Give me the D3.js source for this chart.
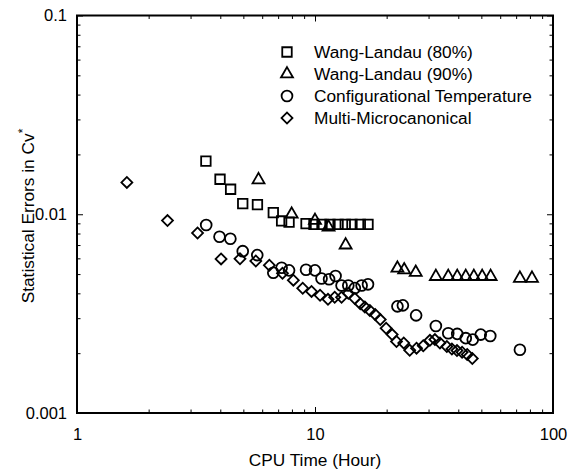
<!DOCTYPE html>
<html>
<head>
<meta charset="utf-8">
<script src="https://cdn.jsdelivr.net/npm/d3@7"></script>
<style>
  body { margin: 0; background: #fff; }
  text { font-family: "Liberation Sans", Arial, Helvetica, sans-serif; }
</style>
</head>
<body>
<svg id="chart" width="569" height="471"></svg>
<script>
// Wang-Landau (80%)
var wl80X = [3.48, 3.99, 4.42, 4.97, 5.73, 6.68, 7.24, 7.78, 9.17, 9.9, 10.7, 11.56, 12.5, 13.4, 14.3, 15.5, 16.7];
var wl80Y = [0.0185, 0.0150, 0.01336, 0.0113, 0.01117, 0.0102, 0.00925, 0.00912, 0.00898, 0.0089, 0.0089, 0.0089, 0.0089, 0.0089, 0.0089, 0.0089, 0.0089];

// Wang-Landau (90%)
var wl90X = [5.79, 7.98, 10.0, 11.4, 13.45, 22.2, 23.7, 26.5, 32.2, 36.3, 39.6, 43.0, 46.5, 50.4, 54.7, 72.6, 81.6];
var wl90Y = [0.0149, 0.0100, 0.0093, 0.0086, 0.0070, 0.00535, 0.00525, 0.0051, 0.00486, 0.00486, 0.00486, 0.00486, 0.00486, 0.00486, 0.00486, 0.00476, 0.00476];

// Configurational Temperature
var ctX = [3.49, 3.97, 4.41, 4.97, 5.72, 6.68, 7.24, 7.78, 9.17, 10.0, 10.65, 11.46, 12.2, 12.93, 13.8, 14.7, 15.7, 16.7, 22.2, 23.4, 26.6, 32.2, 36.3, 39.6, 43.0, 46.0, 49.7, 54.5, 72.6];
var ctY = [0.00883, 0.00771, 0.00753, 0.00652, 0.00623, 0.00508, 0.00538, 0.00522, 0.00526, 0.00522, 0.00475, 0.00471, 0.00489, 0.00438, 0.00438, 0.00425, 0.00438, 0.00444, 0.00344, 0.00348, 0.0031, 0.00274, 0.00252, 0.0025, 0.00238, 0.00234, 0.00248, 0.00244, 0.00208];

// Multi-Microcanonical
var mmX = [1.62, 2.40, 3.21, 4.03, 4.84, 5.64, 6.43, 7.30, 8.11, 8.88, 9.67, 10.5, 11.34, 12.1, 12.93, 13.8, 14.7, 15.5, 16.2, 17.0, 17.9, 18.8, 19.9, 21.1, 22.0, 23.6, 25.0, 26.7, 28.5, 30.4, 31.9, 33.5, 35.8, 37.6, 39.5, 41.5, 43.6, 45.8];
var mmY = [0.01446, 0.00929, 0.00805, 0.00596, 0.00597, 0.00582, 0.00554, 0.00505, 0.00466, 0.00424, 0.00409, 0.00391, 0.00373, 0.00382, 0.00382, 0.0040, 0.00377, 0.00355, 0.00341, 0.00328, 0.00313, 0.00295, 0.00267, 0.00248, 0.00229, 0.00225, 0.00207, 0.00212, 0.00218, 0.00232, 0.00234, 0.00225, 0.00216, 0.0021, 0.00206, 0.00202, 0.00197, 0.00188];

var seriesNames = ["Wang-Landau (80%)", "Wang-Landau (90%)", "Configurational Temperature", "Multi-Microcanonical"];

// ticks
var xMajor = [1, 10, 100];
var xMinor = [2, 3, 4, 5, 6, 7, 8, 9, 20, 30, 40, 50, 60, 70, 80, 90];
var yMajor = [0.001, 0.01, 0.1];
var yMinor = [0.002, 0.003, 0.004, 0.005, 0.006, 0.007, 0.008, 0.009, 0.02, 0.03, 0.04, 0.05, 0.06, 0.07, 0.08, 0.09];

var margin = {top: 15.5, right: 16, bottom: 58, left: 77},
  width = 569 - margin.left - margin.right,
  height = 471 - margin.top - margin.bottom;

var svg = d3.select("#chart");
var g = svg.append("g").attr("transform", "translate(" + margin.left + "," + margin.top + ")");

var x = d3.scaleLog().domain([1, 100]).range([0, width]);
var y = d3.scaleLog().domain([0.001, 0.1]).range([height, 0]);

var fs = 16.5, titleFs = 17.3;

// axes, ticks point inward
function noLabel() { return ""; }

g.append("g").attr("transform", "translate(0," + height + ")")
  .call(d3.axisBottom(x).tickValues(xMajor).tickSize(-6).tickPadding(15).tickFormat(d3.format("d")));
g.append("g").attr("transform", "translate(0," + height + ")")
  .call(d3.axisBottom(x).tickValues(xMinor).tickSize(-3.5).tickFormat(noLabel));
g.append("g")
  .call(d3.axisTop(x).tickValues(xMajor).tickSize(-6).tickFormat(noLabel));
g.append("g")
  .call(d3.axisTop(x).tickValues(xMinor).tickSize(-3.5).tickFormat(noLabel));

g.append("g")
  .call(d3.axisLeft(y).tickValues(yMajor).tickSize(-6).tickPadding(10).tickFormat(function(d) { return String(d); }));
g.append("g")
  .call(d3.axisLeft(y).tickValues(yMinor).tickSize(-3.5).tickFormat(noLabel));
g.append("g").attr("transform", "translate(" + width + ",0)")
  .call(d3.axisRight(y).tickValues(yMajor).tickSize(-6).tickFormat(noLabel));
g.append("g").attr("transform", "translate(" + width + ",0)")
  .call(d3.axisRight(y).tickValues(yMinor).tickSize(-3.5).tickFormat(noLabel));

g.selectAll(".domain").remove();
g.selectAll(".tick line").attr("stroke", "#000").attr("stroke-width", 1);
g.selectAll(".tick text").attr("font-size", fs).attr("fill", "#000")
  .style("font-family", "'Liberation Sans', Arial, sans-serif");

// frame
g.append("rect")
  .attr("width", width)
  .attr("height", height)
  .attr("fill", "none")
  .attr("stroke", "#000")
  .attr("stroke-width", 2);

// axis titles
svg.append("text")
  .attr("x", margin.left + width / 2)
  .attr("y", 466)
  .attr("text-anchor", "middle")
  .attr("font-size", titleFs)
  .text("CPU Time (Hour)");

var yt = svg.append("text")
  .attr("transform", "translate(34,216) rotate(-90)")
  .attr("text-anchor", "middle")
  .attr("font-size", titleFs);
yt.append("tspan").text("Statistical Errors in Cv");
yt.append("tspan").attr("font-size", 12).attr("dy", -7).text("*");

// markers
var shapes = [
  {type: d3.symbolSquare, size: 90, rot: 0},
  {type: d3.symbolTriangle, size: 62, rot: 0},
  {type: d3.symbolCircle, size: 92, rot: 0},
  {type: d3.symbolSquare, size: 60, rot: 45}
];
var xs = [wl80X, wl90X, ctX, mmX];
var ys = [wl80Y, wl90Y, ctY, mmY];

function drawSeries(k) {
  var pts = xs[k].map(function(v, i) { return [v, ys[k][i]]; });
  g.append("g")
    .selectAll("path")
    .data(pts)
    .enter()
    .append("path")
    .attr("d", d3.symbol().type(shapes[k].type).size(shapes[k].size))
    .attr("transform", function(d) { return "translate(" + x(d[0]) + "," + y(d[1]) + ") rotate(" + shapes[k].rot + ")"; })
    .attr("fill", "none")
    .attr("stroke", "#000")
    .attr("stroke-width", 1.8);
}
// draw back to front
drawSeries(3);
drawSeries(2);
drawSeries(0);
drawSeries(1);

// legend
var legend = svg.append("g")
  .selectAll("g")
  .data(seriesNames)
  .enter()
  .append("g")
  .attr("transform", function(d, i) { return "translate(287," + (52 + i * 22) + ")"; });

legend.append("path")
  .attr("d", function(d, i) { return d3.symbol().type(shapes[i].type).size(shapes[i].size)(); })
  .attr("transform", function(d, i) { return "rotate(" + shapes[i].rot + ")"; })
  .attr("fill", "none")
  .attr("stroke", "#000")
  .attr("stroke-width", 1.8);

legend.append("text")
  .attr("x", 27)
  .attr("dy", "0.36em")
  .attr("font-size", titleFs)
  .text(function(d) { return d; });
</script>
</body>
</html>
